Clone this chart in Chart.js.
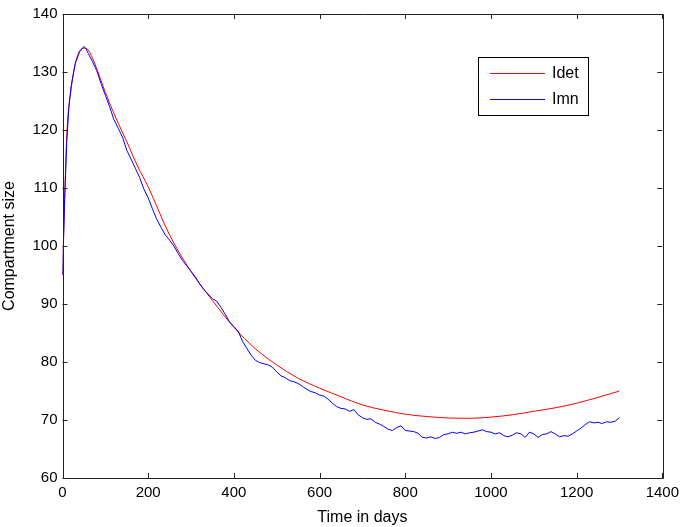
<!DOCTYPE html>
<html>
<head>
<meta charset="utf-8">
<script src="https://cdn.jsdelivr.net/npm/chart.js@4"></script>
<style>
  html, body { margin: 0; padding: 0; background: #fff; }
  #wrap { width: 685px; height: 527px; }
</style>
</head>
<body>
<div id="wrap"><canvas id="compChart"></canvas></div>
<script>
// deterministic compartment (Idet)
const idetDays = [0, 10, 20, 30, 40, 50, 60, 75, 100, 125, 150, 175, 200, 250, 300, 350, 400, 450, 500, 550, 600, 650, 700, 750, 800, 850, 900, 950, 1000, 1050, 1100, 1150, 1200, 1250, 1300];
const idetValues = [95, 119, 127, 131.5, 133.6, 134.1, 133.8, 131.5, 126.5, 122, 118, 113.8, 110.2, 101.9, 95.6, 90.6, 86.0, 82.3, 79.5, 77.2, 75.5, 74.0, 72.6, 71.7, 71.0, 70.6, 70.35, 70.3, 70.5, 70.9, 71.5, 72.1, 72.9, 73.9, 75.0];

// stochastic run (Imn)
const imnDays = [0, 5, 10, 15, 20, 30, 40, 50, 55, 60, 70, 80, 90, 100, 110, 120, 130, 140, 150, 160, 170, 180, 190, 200, 210, 220, 230, 240, 250, 260, 270, 280, 290, 300, 310, 320, 330, 340, 350, 360, 370, 380, 390, 400, 410, 420, 430, 440, 450, 460, 470, 480, 490, 500, 510, 520, 530, 540, 550, 560, 570, 580, 590, 600, 610, 620, 630, 640, 650, 660, 670, 680, 690, 700, 710, 720, 730, 740, 750, 760, 770, 780, 790, 800, 810, 820, 830, 840, 850, 860, 870, 880, 890, 900, 910, 920, 930, 940, 950, 960, 970, 980, 990, 1000, 1010, 1020, 1030, 1040, 1050, 1060, 1070, 1080, 1090, 1100, 1110, 1120, 1130, 1140, 1150, 1160, 1170, 1180, 1190, 1200, 1210, 1220, 1230, 1240, 1250, 1260, 1270, 1280, 1290, 1300];
const imnValues = [95, 108, 118, 124, 127.5, 131.5, 133.5, 134.4, 134.0, 133.2, 131.8, 130.2, 128.0, 126.0, 124.0, 121.8, 120.3, 118.8, 116.5, 115.0, 113.4, 111.8, 109.8, 108.3, 106.4, 104.6, 103.2, 101.9, 101.0, 100.0, 98.7, 97.5, 96.6, 95.6, 94.7, 93.5, 92.5, 91.7, 90.9, 90.5, 89.4, 88.2, 86.9, 86.1, 85.3, 83.6, 82.4, 81.2, 80.3, 79.9, 79.7, 79.5, 79.1, 78.3, 77.6, 77.3, 76.8, 76.6, 76.3, 75.8, 75.3, 74.9, 74.7, 74.3, 74.1, 73.6, 72.9, 72.3, 72.0, 71.9, 71.5, 71.8, 70.9, 70.4, 70.1, 70.2, 69.6, 69.3, 68.9, 68.4, 68.2, 68.7, 69.0, 68.2, 68.1, 68.0, 67.7, 67.0, 66.9, 67.1, 66.8, 67.0, 67.5, 67.6, 67.9, 67.7, 67.9, 67.6, 67.8, 67.9, 68.1, 68.3, 68.0, 67.9, 67.6, 67.8, 67.3, 67.1, 67.4, 67.8, 67.6, 67.0, 67.9, 67.6, 67.0, 67.5, 67.6, 68.0, 67.6, 67.1, 67.3, 67.2, 67.6, 68.1, 68.6, 69.2, 69.7, 69.5, 69.6, 69.4, 69.7, 69.6, 69.8, 70.4];

const FONT = 'Liberation Sans, Arial, Helvetica, sans-serif';
const RED = '#ff0000';
const BLUE = '#0000ff';

function toPoints(xs, ys) {
  return xs.map((x, i) => ({ x: x, y: ys[i] }));
}

// matlab style box with inward ticks on all four sides
const boxPlugin = {
  id: 'boxPlugin',
  afterDraw(chart) {
    const ctx = chart.ctx;
    const a = chart.chartArea;
    const xs = chart.scales.x, ys = chart.scales.y;
    const len = 5;
    ctx.save();
    ctx.strokeStyle = '#222';
    ctx.lineWidth = 1;
    ctx.beginPath();
    ctx.rect(Math.round(a.left) + 0.5, Math.round(a.top) + 0.5, Math.round(a.right - a.left), Math.round(a.bottom - a.top));
    ctx.stroke();
    ctx.beginPath();
    xs.ticks.forEach(t => {
      const px = Math.round(xs.getPixelForValue(t.value)) + 0.5;
      ctx.moveTo(px, a.bottom); ctx.lineTo(px, a.bottom - len);
      ctx.moveTo(px, a.top); ctx.lineTo(px, a.top + len);
    });
    ys.ticks.forEach(t => {
      const py = Math.round(ys.getPixelForValue(t.value)) + 0.5;
      ctx.moveTo(a.left, py); ctx.lineTo(a.left + len, py);
      ctx.moveTo(a.right, py); ctx.lineTo(a.right - len, py);
    });
    ctx.stroke();

    // legend box
    const lx = 478.5, ly = 57.5, lw = 110, lh = 58;
    ctx.fillStyle = '#fff';
    ctx.fillRect(lx, ly, lw, lh);
    ctx.strokeStyle = '#000';
    ctx.strokeRect(lx, ly, lw, lh);
    ctx.font = '16px ' + FONT;
    ctx.textBaseline = 'middle';
    const legendColors = [RED, BLUE];
    chart.data.datasets.forEach((ds, i) => {
      const y = 73.5 + i * 26;
      ctx.strokeStyle = legendColors[i];
      ctx.beginPath();
      ctx.moveTo(490, y); ctx.lineTo(545, y);
      ctx.stroke();
      ctx.fillStyle = '#000';
      ctx.fillText(ds.label, 552, y);
    });
    ctx.restore();
  }
};

new Chart(document.getElementById('compChart'), {
  type: 'line',
  data: {
    datasets: [
      {
        label: 'Idet',
        data: toPoints(idetDays, idetValues),
        borderColor: RED,
        borderWidth: 1,
        pointRadius: 0,
        cubicInterpolationMode: 'monotone',
        order: 1
      },
      {
        label: 'Imn',
        data: toPoints(imnDays, imnValues),
        borderColor: BLUE,
        borderWidth: 1,
        pointRadius: 0,
        tension: 0,
        order: 0
      }
    ]
  },
  plugins: [boxPlugin],
  options: {
    responsive: true,
    maintainAspectRatio: false,
    animation: false,
    layout: { padding: { top: 6, right: 20, left: 0, bottom: 0 } },
    plugins: {
      legend: { display: false },
      tooltip: { enabled: false }
    },
    scales: {
      x: {
        type: 'linear',
        min: 0,
        max: 1400,
        grid: { display: false, drawTicks: false },
        border: { display: false },
        ticks: { stepSize: 200, padding: 6, color: '#000', font: { family: FONT, size: 15 }, maxRotation: 0, callback: v => String(v) },
        title: { display: true, text: 'Time in days', color: '#000', font: { family: FONT, size: 16 }, padding: { top: 2, bottom: 0 } },
        afterFit(scale) { scale.height = 49; }
      },
      y: {
        min: 60,
        max: 140,
        grid: { display: false, drawTicks: false },
        border: { display: false },
        ticks: { stepSize: 10, padding: 5, color: '#000', font: { family: FONT, size: 15 }, callback: v => String(v) },
        title: { display: true, text: 'Compartment size', color: '#000', font: { family: FONT, size: 16 }, padding: { top: 0, bottom: 0 } },
        afterFit(scale) { scale.width = 62.5; }
      }
    }
  }
});
</script>
</body>
</html>
